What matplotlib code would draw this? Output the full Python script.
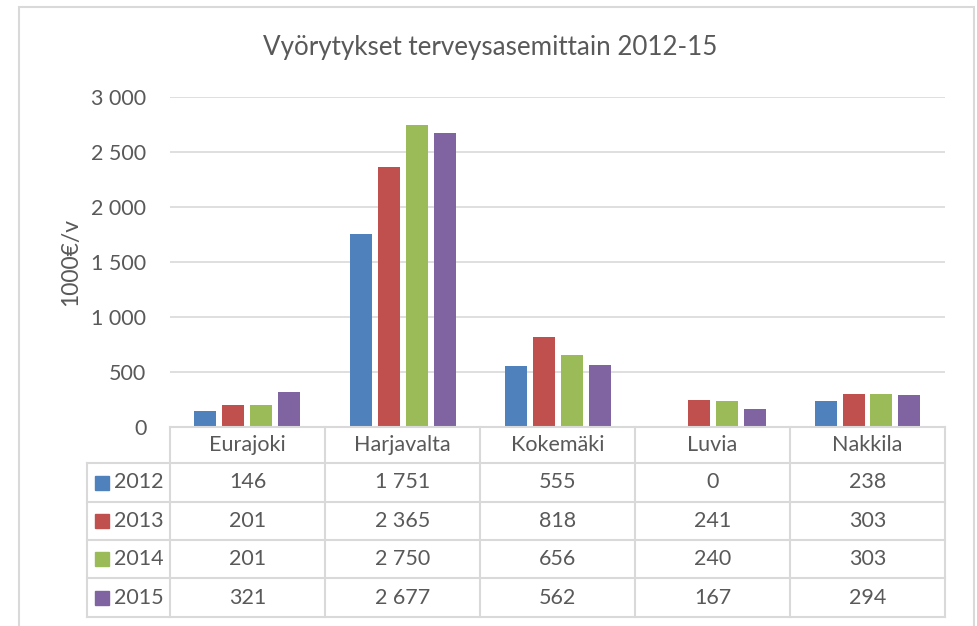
import numpy as np
import matplotlib.pyplot as plt
from matplotlib.patches import Rectangle

plt.rcParams['font.family'] = ['Lato', 'DejaVu Sans']

# Daten
kunnat = ['Eurajoki', 'Harjavalta', 'Kokemäki', 'Luvia', 'Nakkila']
vuodet = ['2012', '2013', '2014', '2015']
v2012 = [146, 1751, 555, 0, 238]
v2013 = [201, 2365, 818, 241, 303]
v2014 = [201, 2750, 656, 240, 303]
v2015 = [321, 2677, 562, 167, 294]
sarjat = [v2012, v2013, v2014, v2015]
varit = ['#4F81BD', '#C0504D', '#9BBB59', '#8064A2']

W, H = 978, 626
tekstivari = '#595959'
viivavari = '#D9D9D9'
fs = 15.5


def fx(px):
    return px / W


def fy(py):
    return 1 - py / H


def muoto(v):
    return f'{int(v):,}'.replace(',', ' ')


fig = plt.figure(figsize=(W / 100, H / 100), dpi=100)

# Rahmen um das Diagramm
fig.patches.append(Rectangle((fx(19), fy(640)), fx(974) - fx(19), fy(7) - fy(640),
                             transform=fig.transFigure, fill=False,
                             edgecolor=viivavari, lw=1.5, clip_on=False))

fig.text(fx(490), fy(47), 'Vyörytykset terveysasemittain 2012-15',
         ha='center', va='center', fontsize=18.7, color=tekstivari)

# Balkenachse
ax = fig.add_axes([fx(170), fy(427), fx(945) - fx(170), fy(97) - fy(427)])
x = np.arange(len(kunnat))
leveys = 22 / 155
askel = 28 / 155
for i, (s, c) in enumerate(zip(sarjat, varit)):
    ax.bar(x + (i - 1.5) * askel, s, width=leveys, color=c, zorder=3)
ax.set_xlim(-0.5, len(kunnat) - 0.5)
ax.set_ylim(0, 3000)
ax.set_yticks(np.arange(0, 3001, 500))
ax.set_yticklabels([muoto(t) for t in np.arange(0, 3001, 500)])
ax.set_xticks([])
ax.grid(axis='y', color=viivavari, lw=1.2, zorder=0)
for sp in ax.spines.values():
    sp.set_visible(False)
ax.tick_params(axis='y', length=0, pad=17, labelsize=fs, labelcolor=tekstivari)

fig.text(fx(71), fy(262), '1000€/v', rotation=90, ha='center', va='center',
         fontsize=16.5, color=tekstivari)

# Datentabelle
tx = fig.add_axes([fx(87), fy(617), fx(945) - fx(87), fy(427) - fy(617)])
vasen = -0.5 - 83 / 155
tx.set_xlim(vasen, len(kunnat) - 0.5)
tx.set_ylim(617, 427)
tx.axis('off')
rivit = [427, 463, 502, 540, 578, 617]
lk = dict(color=viivavari, lw=1.5, clip_on=False)
tx.plot([-0.5, len(kunnat) - 0.5], [427, 427], **lk)
for r in rivit[1:]:
    tx.plot([vasen, len(kunnat) - 0.5], [r, r], **lk)
for k in range(len(kunnat) + 1):
    tx.plot([k - 0.5, k - 0.5], [427, 617], **lk)
tx.plot([vasen, vasen], [463, 617], **lk)

for k, nimi in enumerate(kunnat):
    tx.text(k, 445, nimi, ha='center', va='center', fontsize=fs, color=tekstivari)
for i, (vuosi, s, c) in enumerate(zip(vuodet, sarjat, varit)):
    yc = (rivit[i + 1] + rivit[i + 2]) / 2
    tx.add_patch(Rectangle((vasen + 8 / 155, yc - 7), 14 / 155, 14, color=c, clip_on=False))
    tx.text(vasen + 27 / 155, yc, vuosi, ha='left', va='center', fontsize=fs, color=tekstivari)
    for k, v in enumerate(s):
        tx.text(k, yc, muoto(v), ha='center', va='center', fontsize=fs, color=tekstivari)

fig.savefig('out.png', dpi=100)
